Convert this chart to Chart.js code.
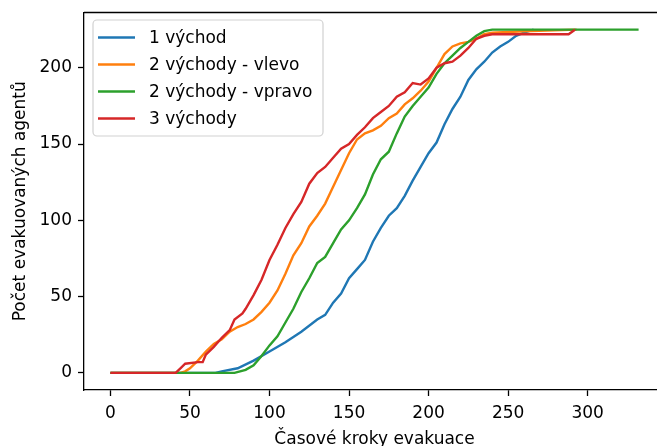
<!DOCTYPE html>
<html>
<head>
<meta charset="utf-8">
<script src="https://cdn.jsdelivr.net/npm/chart.js@4"></script>
<style>
html,body{margin:0;padding:0;background:#fff;overflow:hidden;width:657px;height:446px;}
#wrap{width:680px;height:446px;position:relative;}
</style>
</head>
<body>
<div id="wrap"><canvas id="c" width="680" height="446"></canvas></div>
<script>
// ---- data ----
const seriesLabels = ['1 východ', '2 východy - vlevo', '2 východy - vpravo', '3 východy'];
const seriesColors = ['#1f77b4', '#ff7f0e', '#2ca02c', '#d62728'];

const steps1 = [0,66,70,80,90,100,110,120,130,135,140,145,150,155,160,165,170,175,180,185,190,195,200,205,210,215,220,225,230,235,240,245,250,255,260,266];
const evac1  = [0,0,1,3,8,14,20,27,35,38,46,52,62,68,74,86,95,103,108,116,126,135,144,151,163,173,181,192,199,204,210,214,217,221,223,225];

const steps2 = [0,44,47,50,55,60,65,70,75,80,85,90,95,100,105,110,115,120,125,130,135,140,145,150,155,160,165,170,175,180,185,190,195,200,205,210,215,220,225,230,235,240,260,293];
const evac2  = [0,0,1,3,8,14,19,22,27,30,32,35,40,46,54,65,77,85,96,103,111,122,133,144,153,157,159,162,167,170,176,180,185,191,200,209,214,216,217,219,222,223,224,225];

const steps3 = [0,78,85,90,95,100,105,110,115,120,125,130,135,140,145,150,155,160,165,170,175,180,185,190,195,200,205,210,215,220,225,230,235,240,332];
const evac3  = [0,0,2,5,11,18,24,33,42,53,62,72,76,85,94,100,108,117,130,140,145,157,168,175,181,187,196,203,208,213,217,221,224,225,225];

const steps4 = [0,41,44,47,55,58,60,65,70,75,78,83,85,90,95,100,105,110,115,120,125,130,135,140,145,150,155,160,165,170,175,180,185,190,195,200,205,210,215,220,225,230,235,240,288,292];
const evac4  = [0,0,3,6,7,7,12,17,23,28,35,39,42,51,61,74,84,95,104,112,124,131,135,141,147,150,156,161,167,171,175,181,184,190,189,193,200,203,204,208,213,219,221,222,222,225];

const xTicks = [0, 50, 100, 150, 200, 250, 300];
const yTicks = [0, 50, 100, 150, 200];
const xTitle = 'Časové kroky evakuace';
const yTitle = 'Počet evakuovaných agentů';

// ---- chart ----
const FONT = 'DejaVu Sans';
const allSteps = [steps1, steps2, steps3, steps4];
const allEvac = [evac1, evac2, evac3, evac4];

const datasets = allSteps.map((xs, i) => ({
  label: seriesLabels[i],
  data: xs.map((x, k) => ({x: x, y: allEvac[i][k]})),
  borderColor: seriesColors[i],
  backgroundColor: seriesColors[i],
  borderWidth: 2.4,
  pointRadius: 0,
  tension: 0,
  fill: false,
  order: 4 - i
}));

const frame = {
  id: 'frame',
  afterDraw(chart) {
    const {ctx, chartArea: a} = chart;
    ctx.save();
    ctx.strokeStyle = '#000';
    ctx.lineWidth = 1.3;
    ctx.beginPath();
    ctx.moveTo(a.left, a.top);
    ctx.lineTo(a.right, a.top);
    ctx.stroke();
    ctx.restore();
  }
};

const innerLegend = {
  id: 'innerLegend',
  afterDraw(chart) {
    const ctx = chart.ctx;
    const a = chart.chartArea;
    const x0 = a.left + 9, y0 = a.top + 7.5, w = 230, h = 116, r = 4;
    ctx.save();
    ctx.beginPath();
    ctx.moveTo(x0 + r, y0);
    ctx.arcTo(x0 + w, y0, x0 + w, y0 + h, r);
    ctx.arcTo(x0 + w, y0 + h, x0, y0 + h, r);
    ctx.arcTo(x0, y0 + h, x0, y0, r);
    ctx.arcTo(x0, y0, x0 + w, y0, r);
    ctx.closePath();
    ctx.fillStyle = 'rgba(255,255,255,0.8)';
    ctx.fill();
    ctx.strokeStyle = 'rgba(204,204,204,0.9)';
    ctx.lineWidth = 1.2;
    ctx.stroke();
    ctx.font = '17px "' + FONT + '"';
    ctx.textBaseline = 'middle';
    ctx.fillStyle = '#000';
    chart.data.datasets.forEach((ds, i) => {
      const yy = y0 + 17.5 + i * 27;
      ctx.strokeStyle = ds.borderColor;
      ctx.lineWidth = 2.4;
      ctx.beginPath();
      ctx.moveTo(x0 + 5, yy);
      ctx.lineTo(x0 + 42, yy);
      ctx.stroke();
      ctx.fillText(ds.label, x0 + 56, yy + 1);
    });
    ctx.restore();
  }
};

new Chart(document.getElementById('c'), {
  type: 'line',
  data: { datasets: datasets },
  options: {
    responsive: false,
    animation: false,
    events: [],
    layout: { padding: { top: 12.5, right: 15, left: 0, bottom: 0 } },
    plugins: { legend: { display: false }, tooltip: { enabled: false } },
    scales: {
      x: {
        type: 'linear',
        min: -16.6,
        max: 348.6,
        afterFit(s) { s.height = 56; },
        afterBuildTicks(s) { s.ticks = xTicks.map(v => ({value: v})); },
        grid: { drawOnChartArea: false, drawTicks: true, tickLength: 6, tickColor: '#000', tickWidth: 1.3 },
        border: { display: true, color: '#000', width: 1.3 },
        ticks: { color: '#000', font: { family: FONT, size: 17 }, padding: 7, maxRotation: 0 },
        title: { display: true, text: xTitle, color: '#000', font: { family: FONT, size: 17 }, padding: { top: 0, bottom: -4 } }
      },
      y: {
        type: 'linear',
        min: -11.25,
        max: 236.25,
        afterFit(s) { s.width = 84; },
        afterBuildTicks(s) { s.ticks = yTicks.map(v => ({value: v})); },
        grid: { drawOnChartArea: false, drawTicks: true, tickLength: 6, tickColor: '#000', tickWidth: 1.3 },
        border: { display: true, color: '#000', width: 1.3 },
        ticks: { color: '#000', font: { family: FONT, size: 17, lineHeight: 0.5 }, padding: 6 },
        title: { display: true, text: yTitle, color: '#000', font: { family: FONT, size: 17 }, padding: { top: 10, bottom: 0 } }
      }
    }
  },
  plugins: [frame, innerLegend]
});
</script>
</body>
</html>
